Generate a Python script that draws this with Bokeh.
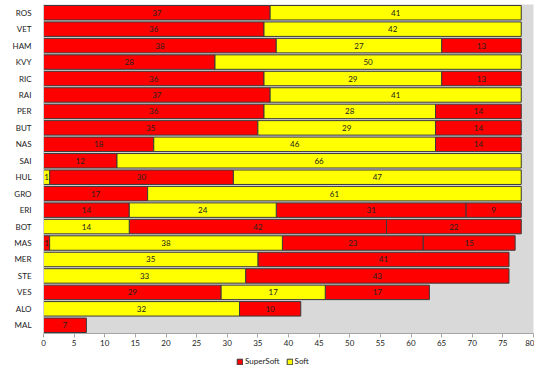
from bokeh.plotting import figure
from bokeh.models import ColumnDataSource, FactorRange, Legend, LegendItem
from bokeh.layouts import column
from bokeh.core.properties import value
from bokeh.embed import file_html
from bokeh.resources import INLINE

drivers = ["ROS", "VET", "HAM", "KVY", "RIC", "RAI", "PER", "BUT", "NAS", "SAI",
           "HUL", "GRO", "ERI", "BOT", "MAS", "MER", "STE", "VES", "ALO", "MAL"]

# stints per driver: laps and compound (SS = SuperSoft, S = Soft)
stint_laps = [
    [37, 41], [36, 42], [38, 27, 13], [28, 50], [36, 29, 13], [37, 41],
    [36, 28, 14], [35, 29, 14], [18, 46, 14], [12, 66], [1, 30, 47], [17, 61],
    [14, 24, 31, 9], [14, 42, 22], [1, 38, 23, 15], [35, 41], [33, 43],
    [29, 17, 17], [32, 10], [7],
]
stint_compounds = [
    ["SS", "S"], ["SS", "S"], ["SS", "S", "SS"], ["SS", "S"], ["SS", "S", "SS"], ["SS", "S"],
    ["SS", "S", "SS"], ["SS", "S", "SS"], ["SS", "S", "SS"], ["SS", "S"], ["S", "SS", "S"], ["SS", "S"],
    ["SS", "S", "SS", "SS"], ["S", "SS", "SS"], ["SS", "S", "SS", "SS"], ["S", "SS"], ["S", "SS"],
    ["SS", "S", "SS"], ["S", "SS"], ["SS"],
]
x_ticks = list(range(0, 81, 5))
compound_order = ["SS", "S"]
compound_names = {"SS": "SuperSoft", "S": "Soft"}
compound_colors = {"SS": "#ff0000", "S": "#ffff00"}
outline = "#3a3a3a"
font = "Lato"

data = {c: dict(y=[], left=[], right=[], mid=[], lab=[]) for c in compound_order}
for d, laps, comps in zip(drivers, stint_laps, stint_compounds):
    start = 0
    for n, c in zip(laps, comps):
        dd = data[c]
        dd["y"].append(d)
        dd["left"].append(start)
        dd["right"].append(start + n)
        dd["mid"].append(start + n / 2)
        dd["lab"].append(str(n))
        start += n

p = figure(width=534, height=350, output_backend="svg", toolbar_location=None,
           x_range=(0, 80), y_range=FactorRange(factors=drivers[::-1]),
           min_border_left=43, min_border_right=1, min_border_top=4, min_border_bottom=17)
p.background_fill_color = "#d9d9d9"
p.border_fill_color = "white"
p.outline_line_color = None
p.grid.visible = False

sources = {}
for c in compound_order:
    src = ColumnDataSource(data[c])
    sources[c] = src
    p.hbar(y="y", left="left", right="right", height=0.88, source=src,
           fill_color=compound_colors[c], line_color=outline, line_width=1)
    p.text(x="mid", y="y", text="lab", source=src, text_align="center",
           text_baseline="middle", text_font=value(font), text_font_size="8px",
           text_color="#222222")

p.xaxis.ticker = x_ticks
p.xaxis.major_label_text_font = font
p.xaxis.major_label_text_font_size = "8px"
p.xaxis.major_label_text_color = "#222222"
p.xaxis.axis_line_color = "#a6a6a6"
p.xaxis.major_tick_line_color = "#a6a6a6"
p.xaxis.major_tick_out = 4
p.xaxis.major_tick_in = 0
p.xaxis.minor_tick_line_color = None
p.xaxis.major_label_standoff = 2

p.yaxis.major_label_text_font = font
p.yaxis.major_label_text_font_size = "8px"
p.yaxis.major_label_text_color = "#222222"
p.yaxis.axis_line_color = "#d0d0d0"
p.yaxis.major_tick_line_color = None
p.yaxis.minor_tick_line_color = None
p.yaxis.major_label_standoff = 6

# legend strip below the chart (hidden copies of the bar renderers feed the legend)
lg = figure(width=534, height=21, output_backend="svg", toolbar_location=None,
            x_range=p.x_range, y_range=p.y_range,
            min_border_left=0, min_border_right=0, min_border_top=0, min_border_bottom=0)
lg.axis.visible = False
lg.grid.visible = False
lg.outline_line_color = None
lg.background_fill_color = "white"
lg.border_fill_color = "white"
items = []
for c in compound_order:
    r = lg.hbar(y="y", left="left", right="right", height=0.88, source=sources[c],
                fill_color=compound_colors[c], line_color=outline, line_width=1,
                visible=False)
    items.append(LegendItem(label=compound_names[c], renderers=[r]))

legend = Legend(items=items, orientation="horizontal", location=(193, 5))
legend.label_text_font = font
legend.label_text_font_size = "8px"
legend.label_text_color = "#222222"
legend.glyph_width = 7
legend.glyph_height = 7
legend.label_standoff = 2
legend.spacing = 6
legend.padding = 0
legend.margin = 0
legend.border_line_color = None
legend.background_fill_alpha = 0
legend.inactive_fill_alpha = 0
legend.label_height = 8
lg.add_layout(legend)

layout = column(p, lg, spacing=0)
open("out.html", "w").write(file_html(layout, INLINE))
